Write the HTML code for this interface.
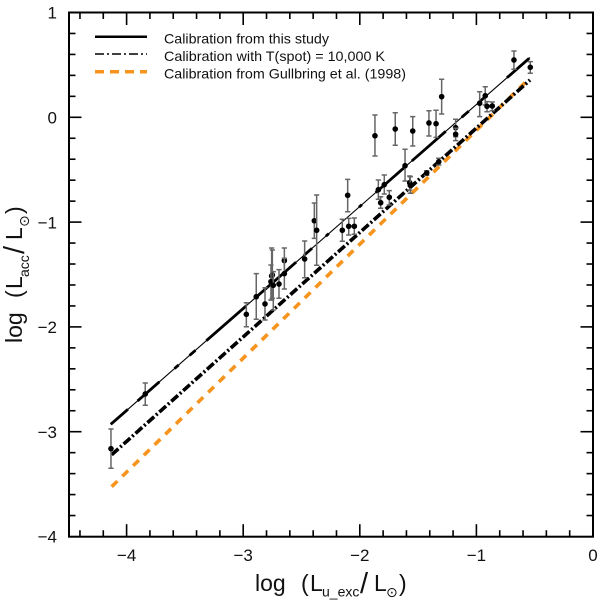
<!DOCTYPE html>
<html>
<head>
<meta charset="utf-8">
<title>Accretion luminosity calibration</title>
<style>
html,body{margin:0;padding:0;background:#fff;width:600px;height:600px;overflow:hidden}
svg{display:block}
text{font-family:"Liberation Sans","DejaVu Sans",sans-serif;fill:#111}
</style>
</head>
<body>
<svg id="chart" width="600" height="600" viewBox="0 0 600 600" xmlns="http://www.w3.org/2000/svg">
  <rect width="600" height="600" fill="#fff"/>
  <g id="series"></g>
  <g id="points"></g>
  <g id="axes"></g>
  <rect x="69" y="12.5" width="524" height="524.2" fill="none" stroke="#000" stroke-width="2"/>
  <g>
    <line x1="95" x2="147" y1="36.7" y2="36.7" stroke="#000" stroke-width="2.5"/>
    <text x="164" y="43.5" font-size="14" textLength="165" lengthAdjust="spacingAndGlyphs">Calibration from this study</text>
    <line x1="95" x2="147" y1="54" y2="54" stroke="#000" stroke-width="1.5" stroke-dasharray="9 3 2 3"/>
    <text x="164" y="61" font-size="14" textLength="221" lengthAdjust="spacingAndGlyphs">Calibration with T(spot) = 10,000 K</text>
    <line x1="95" x2="147" y1="71.7" y2="71.7" stroke="#F7941D" stroke-width="3.5" stroke-dasharray="9 6"/>
    <text x="164" y="78.5" font-size="14" textLength="242" lengthAdjust="spacingAndGlyphs">Calibration from Gullbring et al. (1998)</text>
  </g>
  <text y="591" font-size="23"><tspan x="255">log</tspan><tspan x="301">(</tspan><tspan x="310">L</tspan><tspan x="322" y="596.5" font-size="14">u_exc</tspan><tspan x="360" y="593" font-size="29">/</tspan><tspan x="374" y="591">L</tspan><tspan x="386" y="597" font-size="14">⊙</tspan><tspan x="399" y="591">)</tspan></text>
  <text transform="translate(22,343) rotate(-90)" y="0" font-size="23"><tspan x="0">log</tspan><tspan x="45">(</tspan><tspan x="54">L</tspan><tspan x="66" y="7" font-size="14">acc</tspan><tspan x="89" y="2" font-size="29">/</tspan><tspan x="103" y="0">L</tspan><tspan x="116" y="7" font-size="14">⊙</tspan><tspan x="129" y="0">)</tspan></text>
</svg>
<script>
var xTickLabels = [-4, -3, -2, -1, 0];
var yTickLabels = [1, 0, -1, -2, -3, -4];
var lineStudyX = [-4.136, -0.54];
var lineStudyY = [-2.93, 0.57];
var lineSpotX = [-4.128, -0.54];
var lineSpotY = [-3.22, 0.356];
var lineGullbringX = [-4.128, -0.56];
var lineGullbringY = [-3.525, 0.355];
var pointX = [-0.678,-0.538,-1.298,-0.924,-0.972,-0.909,-0.864,-1.407,-1.346,-1.178,-1.178,-1.696,-1.546,-1.870,-1.612,-1.323,-1.426,-1.572,-1.567,-1.841,-1.790,-1.747,-1.821,-2.104,-2.150,-2.095,-2.047,-2.390,-2.370,-2.473,-2.647,-2.647,-2.693,-2.756,-2.750,-2.762,-2.742,-2.813,-2.888,-2.973,-4.134,-3.840];
var pointY = [0.547,0.477,0.197,0.206,0.134,0.105,0.108,-0.054,-0.061,-0.099,-0.162,-0.112,-0.131,-0.176,-0.462,-0.424,-0.531,-0.624,-0.649,-0.691,-0.643,-0.763,-0.815,-0.744,-1.078,-1.040,-1.040,-0.987,-1.078,-1.352,-1.368,-1.492,-1.591,-1.514,-1.505,-1.569,-1.603,-1.781,-1.712,-1.880,-3.162,-2.640];
var pointHigh = [0.633,0.531,0.363,0.292,0.244,0.149,0.146,0.063,0.067,-0.019,-0.105,0.044,0.006,0.022,-0.305,-0.391,-0.510,-0.560,-0.567,-0.598,-0.551,-0.700,-0.758,-0.592,-0.973,-0.964,-0.961,-0.818,-0.741,-1.180,-1.247,-1.345,-1.454,-1.247,-1.266,-1.409,-1.473,-1.626,-1.492,-1.769,-2.974,-2.535];
var pointLow = [0.458,0.420,0.031,0.117,0.006,0.053,0.063,-0.178,-0.191,-0.185,-0.223,-0.267,-0.274,-0.369,-0.608,-0.455,-0.553,-0.694,-0.725,-0.782,-0.732,-0.837,-0.868,-0.901,-1.183,-1.123,-1.116,-1.155,-1.412,-1.531,-1.489,-1.638,-1.727,-1.743,-1.727,-1.743,-1.839,-1.934,-1.927,-1.998,-3.349,-2.748];

var NS = 'http://www.w3.org/2000/svg';
function sx(v) { return 593 + 116.6 * v; }
function sy(v) { return 117.3 - 104.8 * v; }
function make(tag, parent, attrs) {
  var el = document.createElementNS(NS, tag);
  for (var k in attrs) { el.setAttribute(k, attrs[k]); }
  parent.appendChild(el);
  return el;
}
var axes = document.getElementById('axes');
var series = document.getElementById('series');
var points = document.getElementById('points');

function tick(x1, y1, x2, y2, name) {
  var el = make('line', axes, {x1: x1, y1: y1, x2: x2, y2: y2, stroke: '#000', 'stroke-width': 1.6});
  
  
}
// x ticks every 0.2 (major at integers), on bottom and top
for (var i = -22; i < 0; i++) {
  var xv = i / 5;
  var xLen = (i % 5 === 0) ? 12.5 : 6.5;
  tick(sx(xv), 536.7, sx(xv), 536.7 - xLen, 'x-tick-bottom');
  tick(sx(xv), 12.5, sx(xv), 12.5 + xLen, 'x-tick-top');
}
// y ticks every 0.2 (major at integers), on left and right
for (var j = -19; j < 5; j++) {
  var yv = j / 5;
  var yLen = (j % 5 === 0) ? 12.5 : 6.5;
  tick(69, sy(yv), 69 + yLen, sy(yv), 'y-tick-left');
  tick(593, sy(yv), 593 - yLen, sy(yv), 'y-tick-right');
}
function fmt(v) { return v < 0 ? '\u2212' + Math.abs(v) : String(v); }
xTickLabels.forEach(function (v) {
  var t = make('text', axes, {x: sx(v), y: 561, 'text-anchor': 'middle', 'font-size': 17});
  
  
  t.textContent = fmt(v);
});
yTickLabels.forEach(function (v) {
  var t = make('text', axes, {x: 57, y: sy(v) + 6.2, 'text-anchor': 'end', 'font-size': 17});
  
  
  t.textContent = fmt(v);
});

// Gullbring calibration (drawn first, black lines overlap it)
var gull = make('line', series, {x1: sx(lineGullbringX[0]), y1: sy(lineGullbringY[0]), x2: sx(lineGullbringX[1]), y2: sy(lineGullbringY[1]), stroke: '#F7941D', 'stroke-width': 3.6, 'stroke-dasharray': '8 7'});



// T(spot) calibration
var spot = make('line', series, {x1: sx(lineSpotX[0]), y1: sy(lineSpotY[0]), x2: sx(lineSpotX[1]), y2: sy(lineSpotY[1]), stroke: '#000', 'stroke-width': 3.6, 'stroke-dasharray': '9 2.5 2 2.5'});



// This-study calibration: thin line with thick overlay stretches
var studyThin = make('line', series, {x1: sx(lineStudyX[0]), y1: sy(lineStudyY[0]), x2: sx(lineStudyX[1]), y2: sy(lineStudyY[1]), stroke: '#000', 'stroke-width': 1.1});


var studyThick = make('path', series, {d: 'M' + sx(lineStudyX[0]) + ' ' + sy(lineStudyY[0]) + 'L' + sx(lineStudyX[1]) + ' ' + sy(lineStudyY[1]), pathLength: 1, fill: 'none', stroke: '#000', 'stroke-width': 2.8, 'stroke-dasharray': '.041 .023 .052 .036 .010 .026 .014 .026 .095 .024 .095 .019 .019 .033 .007 .072 .007 .033 .067 .019 .081 .038 .017 .024 .017 .05 .053 1'});



// Data points with error bars
pointX.forEach(function (xVal, n) {
  var px = sx(xVal);
  var top = sy(pointHigh[n]);
  var bot = sy(pointLow[n]);
  var g = make('g', points, {});
  
  
  var bar = make('path', g, {d: 'M' + px + ' ' + top + 'V' + bot + 'M' + (px - 2.6) + ' ' + top + 'H' + (px + 2.6) + 'M' + (px - 2.6) + ' ' + bot + 'H' + (px + 2.6), fill: 'none', stroke: '#666', 'stroke-width': 1.5});
  
  
  var dot = make('circle', g, {cx: px, cy: sy(pointY[n]), r: 2.8, fill: '#000'});
  
  
});
</script>
</body>
</html>
